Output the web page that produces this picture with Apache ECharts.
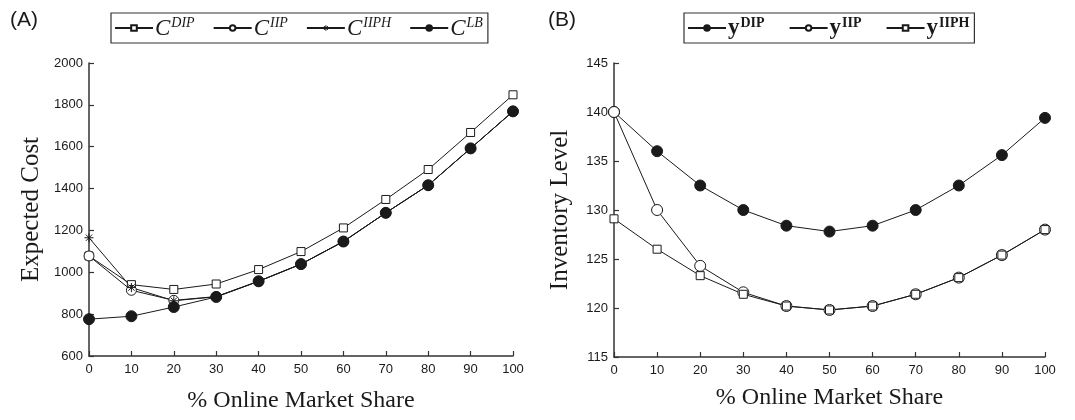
<!DOCTYPE html>
<html><head><meta charset="utf-8">
<script src="https://cdn.jsdelivr.net/npm/echarts@6/dist/echarts.min.js"></script>
<style>html,body{margin:0;padding:0;background:#fff}#c{width:1075px;height:420px}</style>
</head><body><div id="c"></div>
<script>
// ---- data ----
var shares = [0, 10, 20, 30, 40, 50, 60, 70, 80, 90, 100];
var costDIP  = [1078, 941, 918, 944, 1013, 1099, 1212, 1348, 1491, 1668, 1848];
var costIIP  = [1078, 914, 866, 884, 957, 1039, 1147, 1284, 1416, 1592, 1769];
var costIIPH = [1165, 927, 864, 883, 957, 1039, 1147, 1284, 1416, 1592, 1769];
var costLB   = [776, 790, 834, 882, 957, 1039, 1147, 1284, 1416, 1592, 1769];
var invDIP  = [140, 136.0, 132.5, 130.0, 128.4, 127.8, 128.4, 130.0, 132.5, 135.6, 139.4];
var invIIP  = [140, 130.0, 124.3, 121.6, 120.2, 119.8, 120.2, 121.4, 123.1, 125.4, 128.0];
var invIIPH = [129.1, 126.0, 123.3, 121.4, 120.2, 119.8, 120.2, 121.4, 123.1, 125.4, 128.0];
var costTicks = [600, 800, 1000, 1200, 1400, 1600, 1800, 2000];
var invTicks = [115, 120, 125, 130, 135, 140, 145];

function pairs(ys){ return shares.map(function(x,i){ return [x, ys[i]]; }); }

var INK = '#1a1a1a';
var STAR = 'path://M5,0 L5,10 M0,5 L10,5 M1.5,1.5 L8.5,8.5 M1.5,8.5 L8.5,1.5';

function mkSeries(name, data, xi, sym, size, fill){
  return {
    name: name, type: 'line', xAxisIndex: xi, yAxisIndex: xi, data: pairs(data),
    symbol: sym, symbolSize: size, showSymbol: true,
    lineStyle: {color: INK, width: 1},
    itemStyle: {color: fill, borderColor: INK, borderWidth: 1},
    emphasis: {disabled: true}, animation: false, z: 2
  };
}

var supRich = {
  c: {fontFamily: 'Liberation Serif', fontStyle: 'italic', fontSize: 23, color: INK, verticalAlign: 'bottom', lineHeight: 24},
  s: {fontFamily: 'Liberation Serif', fontStyle: 'italic', fontSize: 14, color: INK, verticalAlign: 'top', lineHeight: 24, padding: [0,0,0,1]},
  y: {fontFamily: 'Liberation Serif', fontWeight: 'bold', fontSize: 23, color: INK, verticalAlign: 'bottom', lineHeight: 24},
  t: {fontFamily: 'Liberation Serif', fontWeight: 'bold', fontSize: 14, color: INK, verticalAlign: 'top', lineHeight: 24, padding: [0,0,0,1]}
};

function yAxisCommon(min, max, interval, name, gap){
  return {
    type: 'value', min: min, max: max, interval: interval, name: name,
    nameLocation: 'middle', nameGap: gap,
    nameTextStyle: {fontFamily: 'Liberation Serif', fontSize: 25, color: INK},
    axisLine: {show: true, lineStyle: {color: '#333', width: 1.5}},
    axisTick: {show: true, inside: true, length: 5, lineStyle: {color: '#333', width: 1.2}},
    axisLabel: {fontFamily: 'Liberation Sans', fontSize: 13, color: INK, margin: 6,
      formatter: function(v){ return String(v); }},
    splitLine: {show: false}
  };
}
function xAxisCommon(gi, gap){
  return {
    type: 'value', gridIndex: gi, min: 0, max: 100, interval: 10,
    name: '% Online Market Share', nameLocation: 'middle', nameGap: gap,
    nameTextStyle: {fontFamily: 'Liberation Serif', fontSize: 24, color: INK},
    axisLine: {show: true, onZero: false, lineStyle: {color: '#333', width: 1.5}},
    axisTick: {show: true, inside: true, length: 5, lineStyle: {color: '#333', width: 1.2}},
    axisLabel: {fontFamily: 'Liberation Sans', fontSize: 13, color: INK, margin: 7},
    splitLine: {show: false}
  };
}

var yA = yAxisCommon(costTicks[0], costTicks[costTicks.length-1], costTicks[1]-costTicks[0], 'Expected Cost', 45);
yA.gridIndex = 0;
var yB = yAxisCommon(invTicks[0], invTicks[invTicks.length-1], invTicks[1]-invTicks[0], 'Inventory Level', 41);
yB.gridIndex = 1;

var legendBase = {
  orient: 'horizontal', top: 13, padding: [3, 5, 3, 3],
  borderColor: '#333', borderWidth: 1.2, borderRadius: 0,
  itemWidth: 38, itemHeight: 7, itemGap: 18,
  selectedMode: false,
  textStyle: {rich: supRich, padding: [0,0,0,-3]}
};

var chart = echarts.init(document.getElementById('c'), null, {renderer: 'canvas'});
chart.setOption({
  animation: false,
  title: [
    {text: '(A)', left: 5, top: 5, textStyle: {fontFamily: 'Liberation Sans', fontWeight: 'normal', fontSize: 21, color: INK}},
    {text: '(B)', left: 543, top: 5, textStyle: {fontFamily: 'Liberation Sans', fontWeight: 'normal', fontSize: 21, color: INK}}
  ],
  legend: [
    Object.assign({}, legendBase, {left: 111,
      data: ['C^DIP', 'C^IIP', {name: 'C^IIPH', itemStyle: {color: 'none', borderColor: INK, borderWidth: 1}}, 'C^LB'],
      formatter: function(n){ var p = n.split('^'); return '{c|' + p[0] + '}{s|' + p[1] + '}'; }}),
    Object.assign({}, legendBase, {left: 684, itemGap: 24, data: ['y^DIP','y^IIP','y^IIPH'],
      formatter: function(n){ var p = n.split('^'); return '{y|' + p[0] + '}{t|' + p[1] + '}'; }})
  ],
  grid: [
    {left: 89, top: 63, width: 424, height: 293, containLabel: false},
    {left: 614, top: 63, width: 431, height: 294, containLabel: false}
  ],
  xAxis: [xAxisCommon(0, 33), xAxisCommon(1, 29)],
  yAxis: [yA, yB],
  series: [
    mkSeries('C^DIP', costDIP, 0, 'rect', 8, '#fff'),
    mkSeries('C^IIP', costIIP, 0, 'circle', 10, '#fff'),
    mkSeries('C^IIPH', costIIPH, 0, STAR, 9, 'none'),
    mkSeries('C^LB', costLB, 0, 'circle', 11, INK),
    mkSeries('y^DIP', invDIP, 1, 'circle', 11, INK),
    mkSeries('y^IIP', invIIP, 1, 'circle', 11, '#fff'),
    mkSeries('y^IIPH', invIIPH, 1, 'rect', 8, '#fff')
  ]
});
</script></body></html>
